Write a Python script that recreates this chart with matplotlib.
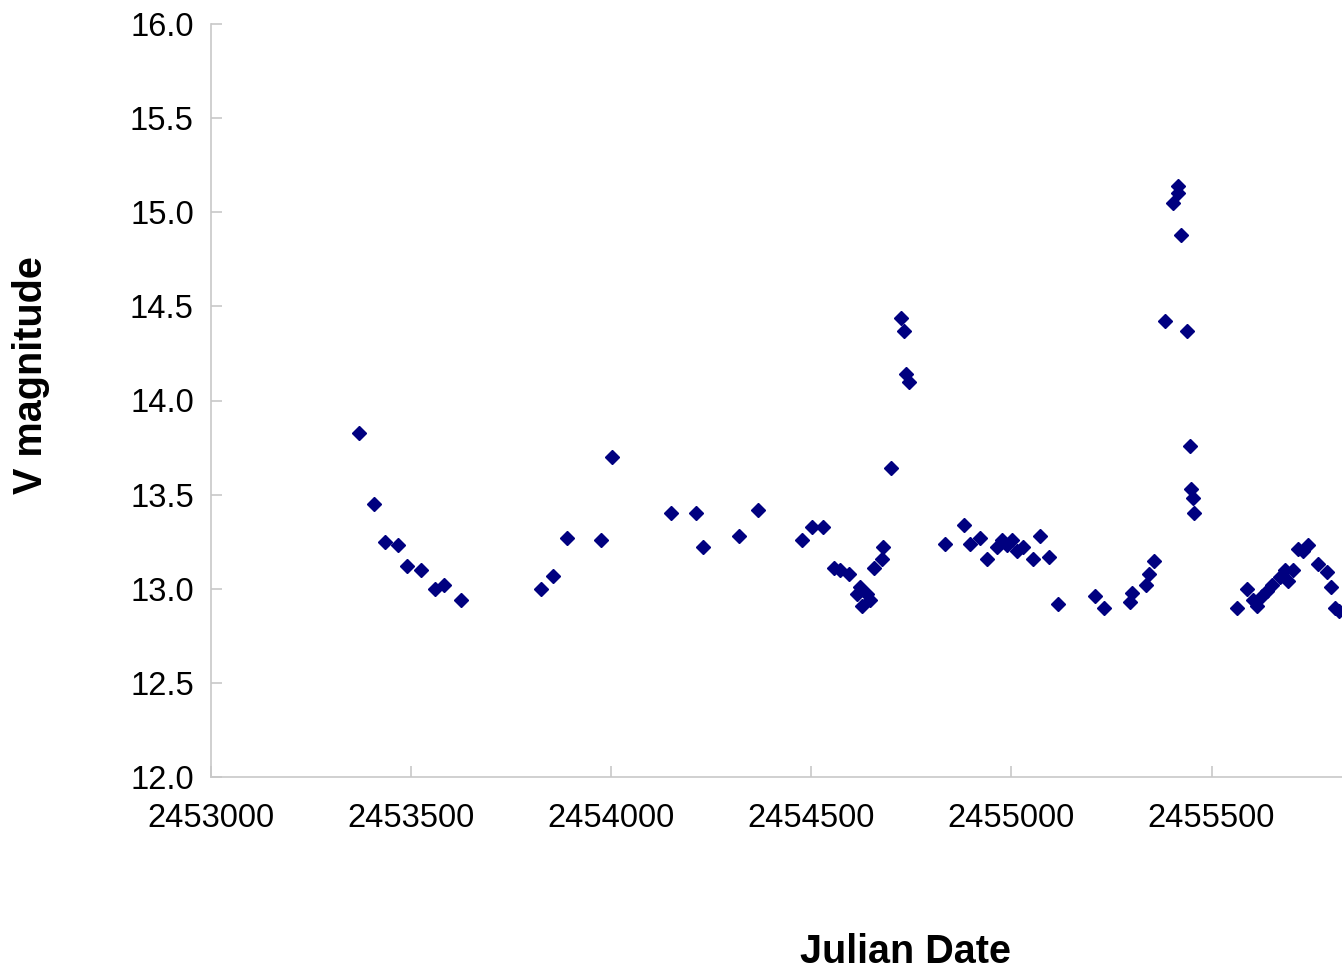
import matplotlib
matplotlib.use("Agg")
import matplotlib.pyplot as plt
from matplotlib.ticker import FixedLocator, MultipleLocator, FormatStrFormatter

plt.rcParams['font.family'] = ['Liberation Sans', 'DejaVu Sans']

# Julian dates and V magnitudes
jd = [
    2453371, 2453408, 2453435, 2453468, 2453492, 2453525, 2453560, 2453582, 2453626,
    2453825, 2453855, 2453890, 2453975, 2454003,
    2454151, 2454213, 2454231, 2454319, 2454367,
    2454477, 2454503, 2454529, 2454558, 2454572, 2454594, 2454614, 2454622, 2454627,
    2454639, 2454647, 2454656, 2454676, 2454680, 2454700,
    2454725, 2454731, 2454736, 2454744,
    2454835, 2454883, 2454897, 2454922, 2454939, 2454964, 2454976, 2454989, 2455002,
    2455013, 2455028, 2455054, 2455072, 2455094, 2455117,
    2455208, 2455232, 2455297, 2455301, 2455336, 2455344, 2455356,
    2455384, 2455403, 2455416, 2455417, 2455425, 2455439, 2455447, 2455449, 2455454, 2455457,
    2455564, 2455589, 2455604, 2455613, 2455625, 2455638, 2455650, 2455671, 2455684,
    2455692, 2455704, 2455717, 2455729, 2455740, 2455767, 2455788, 2455798, 2455808, 2455819,
]
vmag = [
    13.83, 13.45, 13.25, 13.23, 13.12, 13.10, 13.00, 13.02, 12.94,
    13.00, 13.07, 13.27, 13.26, 13.70,
    13.40, 13.40, 13.22, 13.28, 13.42,
    13.26, 13.33, 13.33, 13.11, 13.10, 13.08, 12.97, 13.01, 12.91,
    12.97, 12.94, 13.11, 13.16, 13.22, 13.64,
    14.44, 14.37, 14.14, 14.10,
    13.24, 13.34, 13.24, 13.27, 13.16, 13.22, 13.26, 13.23, 13.26,
    13.20, 13.22, 13.16, 13.28, 13.17, 12.92,
    12.96, 12.90, 12.93, 12.98, 13.02, 13.08, 13.15,
    14.42, 15.05, 15.14, 15.10, 14.88, 14.37, 13.76, 13.53, 13.48, 13.40,
    12.90, 13.00, 12.94, 12.91, 12.96, 12.99, 13.02, 13.06, 13.10,
    13.04, 13.10, 13.21, 13.20, 13.23, 13.13, 13.09, 13.01, 12.90, 12.88,
]
# x ticks that fall inside the visible part of the chart
xticks = [2453000, 2453500, 2454000, 2454500, 2455000, 2455500]

W, H = 1342, 976
fig = plt.figure(figsize=(W / 100, H / 100), dpi=100)

# axes run past the right edge of the image, as in the original crop
left, right, top, bottom = 210.5, 1411.7, 24, 777
ax = fig.add_axes([left / W, 1 - bottom / H, (right - left) / W, (bottom - top) / H])

ax.plot(jd, vmag, linestyle='none', marker='D', ms=7, color='#000080',
        markeredgecolor='#000080', clip_on=False)

ax.set_xlim(2453000, 2456000)
ax.set_ylim(12.0, 16.0)
ax.xaxis.set_major_locator(FixedLocator(xticks))
ax.yaxis.set_major_locator(MultipleLocator(0.5))
ax.yaxis.set_major_formatter(FormatStrFormatter('%.1f'))
ax.ticklabel_format(axis='x', useOffset=False, style='plain')

grey = '#c8c8c8'
for s in ['top', 'right']:
    ax.spines[s].set_visible(False)
for s in ['left', 'bottom']:
    ax.spines[s].set_color(grey)
    ax.spines[s].set_linewidth(1.2)
ax.tick_params(direction='in', length=8, width=1.2, color=grey,
               labelsize=23.5, labelcolor='black')
ax.tick_params(axis='y', pad=12)
ax.tick_params(axis='x', pad=19)

fig.text(905 / W, 1 - 952 / H, 'Julian Date', ha='center', va='center',
         fontsize=28.5, fontweight='bold')
fig.text(31 / W, 1 - 375 / H, 'V magnitude', ha='center', va='center',
         rotation=90, fontsize=28.5, fontweight='bold')

fig.savefig('out.png', dpi=100)
